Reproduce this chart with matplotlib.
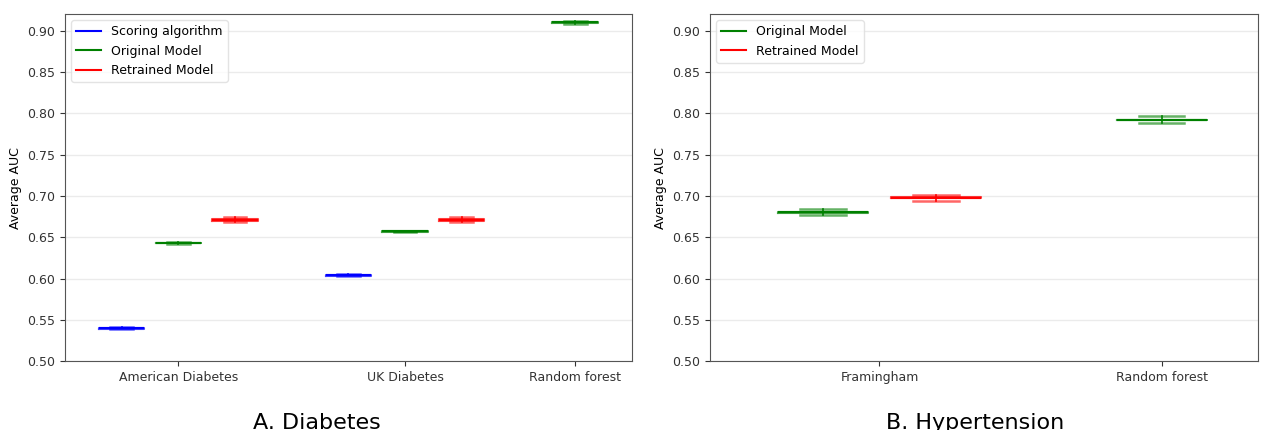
import matplotlib.pyplot as plt
from matplotlib.lines import Line2D

# Diabetes panel: (label, position, colour key, q1, median, q3, low whisker, high whisker)
dia_names = ['Scoring algorithm', 'Original Model', 'Retrained Model',
             'Scoring algorithm', 'Original Model', 'Retrained Model',
             'Original Model']
dia_pos = [1, 2, 3, 5, 6, 7, 9]
dia_med = [0.540, 0.643, 0.671, 0.604, 0.657, 0.671, 0.910]
dia_q1 = [0.5395, 0.6425, 0.6700, 0.6035, 0.6565, 0.6700, 0.9095]
dia_q3 = [0.5405, 0.6435, 0.6720, 0.6045, 0.6575, 0.6720, 0.9105]
dia_lo = [0.5390, 0.6420, 0.6680, 0.6030, 0.6560, 0.6680, 0.9080]
dia_hi = [0.5410, 0.6440, 0.6740, 0.6050, 0.6580, 0.6740, 0.9120]
dia_ticks = [2, 6, 9]
dia_ticklabels = ['American Diabetes', 'UK Diabetes', 'Random forest']

# Hypertension panel
hyp_names = ['Original Model', 'Retrained Model', 'Original Model']
hyp_pos = [1, 2, 4]
hyp_med = [0.680, 0.698, 0.792]
hyp_q1 = [0.6795, 0.6975, 0.7915]
hyp_q3 = [0.6805, 0.6985, 0.7925]
hyp_lo = [0.6770, 0.6940, 0.7880]
hyp_hi = [0.6840, 0.7010, 0.7970]
hyp_ticks = [1.5, 4]
hyp_ticklabels = ['Framingham', 'Random forest']

colors = {'Scoring algorithm': 'blue', 'Original Model': 'green', 'Retrained Model': 'red'}
yticks = [0.50, 0.55, 0.60, 0.65, 0.70, 0.75, 0.80, 0.85, 0.90]

fig = plt.figure(figsize=(12.68, 4.30), dpi=100)
ax1 = fig.add_axes([0.0513, 0.160, 0.447, 0.807])
ax2 = fig.add_axes([0.560, 0.160, 0.432, 0.807])


def draw(ax, names, pos, med, q1, q3, lo, hi, ticks, ticklabels, xlim, legend_names):
    for n, p, m, a, b, l, h in zip(names, pos, med, q1, q3, lo, hi):
        c = colors[n]
        st = [{'med': m, 'q1': a, 'q3': b, 'whislo': l, 'whishi': h, 'fliers': []}]
        ax.bxp(st, positions=[p], widths=0.8, showfliers=False,
               boxprops=dict(color=c, lw=1.5, alpha=0.75),
               whiskerprops=dict(color=c, lw=1.2),
               capprops=dict(color=c, lw=1.8, alpha=0.6),
               medianprops=dict(color=c, lw=1.5))
    ax.set_xlim(*xlim)
    ax.set_ylim(0.5, 0.92)
    ax.set_yticks(yticks)
    ax.set_yticklabels(['%.2f' % v for v in yticks])
    ax.set_xticks(ticks)
    ax.set_xticklabels(ticklabels)
    ax.tick_params(labelsize=9, colors='#333333')
    ax.yaxis.grid(True, color='#ebebeb', lw=1)
    ax.set_axisbelow(True)
    ax.set_ylabel('Average AUC', fontsize=9)
    for s in ax.spines.values():
        s.set_color('#555555')
    handles = [Line2D([], [], color=colors[n], lw=1.5) for n in legend_names]
    leg = ax.legend(handles, legend_names, loc='upper left', fontsize=9)
    leg.get_frame().set_edgecolor('#dddddd')


draw(ax1, dia_names, dia_pos, dia_med, dia_q1, dia_q3, dia_lo, dia_hi,
     dia_ticks, dia_ticklabels, (0, 10),
     ['Scoring algorithm', 'Original Model', 'Retrained Model'])
draw(ax2, hyp_names, hyp_pos, hyp_med, hyp_q1, hyp_q3, hyp_lo, hyp_hi,
     hyp_ticks, hyp_ticklabels, (0, 4.85),
     ['Original Model', 'Retrained Model'])

fig.text(0.250, 0.040, 'A. Diabetes', fontsize=16, ha='center', va='top')
fig.text(0.769, 0.040, 'B. Hypertension', fontsize=16, ha='center', va='top')

fig.savefig('out.png', dpi=100)
